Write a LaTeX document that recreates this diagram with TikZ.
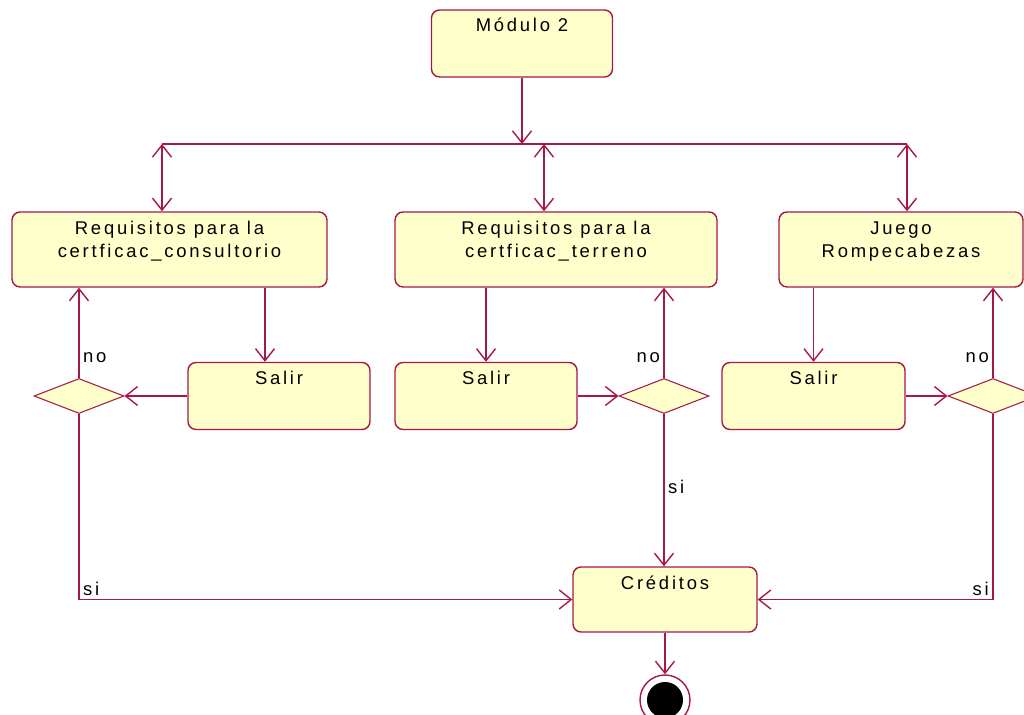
\documentclass[tikz,border=0pt]{standalone}
\usepackage{fontspec}
\setmainfont[LetterSpace=15]{Liberation Sans}
\usetikzlibrary{shapes,arrows.meta}
\definecolor{umlred}{RGB}{165,25,70}
\definecolor{umlfill}{RGB}{255,255,204}
\tikzset{%
  base/.style     = {rectangle, rounded corners=0.16cm, draw=umlred, fill=umlfill, thick,
    inner ysep=0.14cm, text height=0.3cm, text depth=0.76cm, align=center},
  twoline/.style  = {text height=0.768cm, text depth=0.452cm}, % two text lines
  decision/.style = {diamond, draw=umlred, fill=umlfill, semithick, minimum width=1.8cm,
    minimum height=0.7cm, inner sep=0pt}, % Branch
  final/.style    = {circle, draw=umlred, fill=white, thick, minimum size=1cm, inner sep=0pt,
    path picture={\fill[black] (path picture bounding box.center) circle (0.36cm);}}, % End
  flow/.style     = {draw=umlred, thick},
  guard/.style    = {inner sep=2pt}
}

\begin{document}
\begin{tikzpicture}[x=0.02cm, y=-0.02cm, font=\fontsize{10.5}{13.3}\selectfont,
  >={Straight Barb[length=2.4mm,width=3.8mm]}]
\useasboundingbox (0,0) rectangle (1024,715);
\draw
	node at(522,43.5)[base, name=modulo, minimum width=3.62cm]{Módulo 2};
\draw
	node at(169.5,249.5)[base, twoline, name=req1, minimum width=6.3cm]{Requisitos para la\\certficac\_consultorio}
	node at(556,249.5)[base, twoline, name=req2, minimum width=6.44cm]{Requisitos para la\\certficac\_terreno}
	node at(901,249.5)[base, twoline, name=juego, minimum width=4.88cm]{Juego\\Rompecabezas};
\draw
	node at(279,396)[base, name=salir1, minimum width=3.64cm]{Salir}
	node at(486,396)[base, name=salir2, minimum width=3.64cm]{Salir}
	node at(813.5,396)[base, name=salir3, minimum width=3.66cm]{Salir};
\draw
	node at(79,396)[decision, name=d1]{}
	node at(664,396)[decision, name=d2]{}
	node at(993,396)[decision, name=d3]{};
\draw
	node at(665,599.5)[base, name=cred, minimum width=3.68cm, text depth=0.72cm]{Créditos}
	node at(665,700)[final, name=fin]{};
\coordinate (bar1) at (162,144);
\coordinate (bar2) at (544,144);
\coordinate (bar3) at (907,144);
\coordinate (s1in) at ([xshift=-0.28cm]salir1.north);
\draw[flow] (bar1) -- (bar3);
\draw[flow,->] (modulo) -- (modulo |- bar1);
\draw[flow,<->] (bar1) -- (bar1 |- req1.north);
\draw[flow,<->] (bar2) -- (bar2 |- req2.north);
\draw[flow,<->] (bar3) -- (bar3 |- juego.north);
\draw[flow,->] (s1in |- req1.south) -- (s1in);
\draw[flow,->] (salir2.north |- req2.south) -- (salir2.north);
\draw[flow,->] (salir3.north |- juego.south) -- (salir3.north);
\draw[flow,->] (salir1.west) -- (d1.east);
\draw[flow,->] (d1.north) -- (d1.north |- req1.south) node[guard, pos=0.22, right]{no};
\draw[flow,->] (d1.south) |- (cred.west) node[guard, pos=0.5, above right]{si};
\draw[flow,->] (salir2.east) -- (d2.west);
\draw[flow,->] (d2.north) -- (d2.north |- req2.south) node[guard, pos=0.22, left]{no};
\draw[flow,->] (d2.south) -- (d2.south |- cred.north) node[guard, pos=0.48, right]{si};
\draw[flow,->] (salir3.east) -- (d3.west);
\draw[flow,->] (d3.north) -- (d3.north |- juego.south) node[guard, pos=0.22, left]{no};
\draw[flow,->] (d3.south) |- (cred.east) node[guard, pos=0.5, above left]{si};
\draw[flow,->] (cred) -- (fin);
\end{tikzpicture}
\end{document}
